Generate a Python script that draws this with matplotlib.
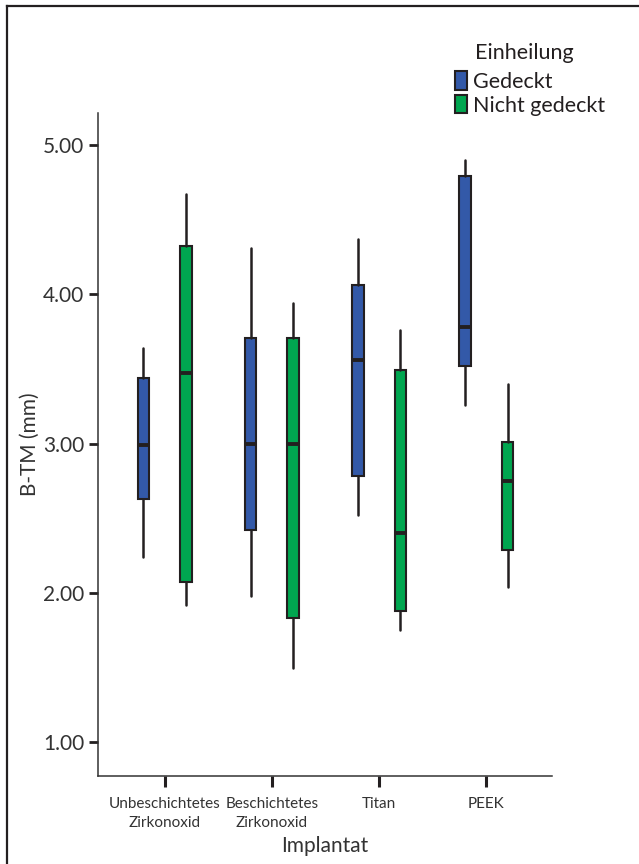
import matplotlib
matplotlib.use("Agg")
import matplotlib.pyplot as plt
from matplotlib.patches import Patch
from matplotlib.lines import Line2D

plt.rcParams['font.family'] = ['Lato', 'DejaVu Sans']

categories = ["Unbeschichtetes\nZirkonoxid", "Beschichtetes\nZirkonoxid", "Titan", "PEEK"]
groups = ["Gedeckt", "Nicht gedeckt"]

# Gedeckt: whisker low, Q1, median, Q3, whisker high
ged_low = [2.24, 1.98, 2.52, 3.26]
ged_q1 = [2.63, 2.42, 2.78, 3.52]
ged_med = [2.99, 3.00, 3.56, 3.78]
ged_q3 = [3.44, 3.71, 4.06, 4.79]
ged_high = [3.64, 4.31, 4.37, 4.90]

# Nicht gedeckt
ng_low = [1.92, 1.50, 1.75, 2.04]
ng_q1 = [2.07, 1.83, 1.88, 2.29]
ng_med = [3.47, 3.00, 2.40, 2.75]
ng_q3 = [4.32, 3.71, 3.49, 3.01]
ng_high = [4.67, 3.94, 3.76, 3.40]

yticks = [1.0, 2.0, 3.0, 4.0, 5.0]

blue = "#3359A8"
green = "#00A650"
dark = "#231F20"

fig = plt.figure(figsize=(6.39, 8.64), dpi=100)
ax = fig.add_axes([98/639, 1-776/864, (552-98)/639, (776-113)/864])

def stats(low, q1, med, q3, high):
    return [dict(whislo=a, q1=b, med=c, q3=d, whishi=e, fliers=[])
            for a, b, c, d, e in zip(low, q1, med, q3, high)]

offset = 0.2
width = 0.11
for st, col, off in [(stats(ged_low, ged_q1, ged_med, ged_q3, ged_high), blue, -offset),
                     (stats(ng_low, ng_q1, ng_med, ng_q3, ng_high), green, offset)]:
    pos = [i + off for i in range(len(categories))]
    ax.bxp(st, positions=pos, widths=width, patch_artist=True, showcaps=False,
           showfliers=False, manage_ticks=False,
           boxprops=dict(facecolor=col, edgecolor=dark, linewidth=1.5),
           whiskerprops=dict(color=dark, linewidth=1.8, solid_capstyle='round'),
           medianprops=dict(color=dark, linewidth=2.8, solid_capstyle='butt'))

ax.set_xlim(-0.624, 3.615)
ax.set_ylim(0.774, 5.214)
ax.set_yticks(yticks)
ax.set_yticklabels([f"{v:.2f}" for v in yticks], fontsize=15, color="#333333")
ax.set_xticks(range(len(categories)))
ax.set_xticklabels(categories, fontsize=11, color="#333333", linespacing=1.5)

for s in ["top", "right"]:
    ax.spines[s].set_visible(False)
for s in ["left", "bottom"]:
    ax.spines[s].set_color("#333333")
    ax.spines[s].set_linewidth(1.1)

ax.tick_params(axis='y', length=6.5, width=2, color=dark, pad=3.5)
ax.tick_params(axis='x', length=8, width=2.2, color=dark, pad=7)

ax.set_ylabel("B-TM (mm)", fontsize=15, color="#333333", labelpad=2)
ax.set_xlabel("Implantat", fontsize=15, color="#333333", labelpad=4)

handles = [Patch(facecolor=blue, edgecolor=dark, linewidth=1.5),
           Patch(facecolor=green, edgecolor=dark, linewidth=1.5)]
leg = fig.legend(handles, groups, loc='upper left',
                 bbox_to_anchor=(455/639, 1-71/864), frameon=False,
                 fontsize=15.5, handlelength=0.55, handleheight=0.95,
                 handletextpad=0.3, labelspacing=0.15, borderpad=0, borderaxespad=0)
for t in leg.get_texts():
    t.set_color("#231F20")
fig.text(475/639, 1-53/864, "Einheilung", fontsize=15.5, color="#231F20",
         ha='left', va='center')

# outer frame (top and left edges)
fig.add_artist(Line2D([7/639, 7/639], [0, 1-6/864], transform=fig.transFigure,
                      color=dark, linewidth=1.6))
fig.add_artist(Line2D([7/639, 1], [1-6/864, 1-6/864], transform=fig.transFigure,
                      color=dark, linewidth=1.6))

fig.savefig("out.png", dpi=100)
